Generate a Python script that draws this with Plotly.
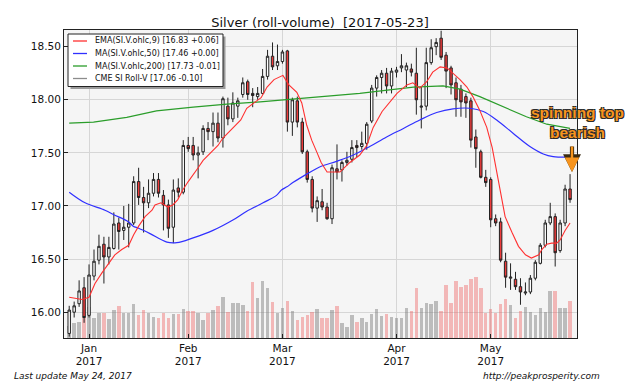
import plotly.graph_objects as go
import pandas as pd

# ---------------- data ----------------
HOLIDAYS = ["2017-01-02", "2017-01-16", "2017-02-20", "2017-04-14"]
dates = [d for d in pd.bdate_range("2016-12-27", "2017-05-23")
         if d.strftime("%Y-%m-%d") not in HOLIDAYS]
idx = list(range(len(dates)))

opens = [15.80, 16.00, 16.08, 16.23, 15.97, 16.34, 16.49, 16.64, 16.52, 16.60,
         16.84, 16.77, 16.80, 16.84, 17.23, 17.08, 17.03, 17.12, 17.25, 17.10,
         17.01, 16.80, 17.17, 17.13, 17.57, 17.57, 17.48, 17.51, 17.73, 17.70,
         17.78, 17.64, 17.94, 17.82, 17.94, 18.05, 18.17, 18.06, 18.03, 18.06,
         18.22, 18.41, 18.32, 18.36, 18.46, 17.79, 17.99, 17.79, 17.51, 17.25,
         16.98, 17.04, 16.99, 16.88, 17.35, 17.34, 17.41, 17.44, 17.57, 17.56,
         17.59, 17.80, 18.11, 18.21, 18.25, 18.13, 18.26, 18.30, 18.28, 18.29,
         18.25, 17.93, 17.94, 18.35, 18.50, 18.58, 18.42, 18.30, 18.16, 18.10,
         18.03, 17.99, 17.65, 17.51, 17.27, 17.25, 16.88, 16.85, 16.48, 16.32,
         16.31, 16.24, 16.18, 16.19, 16.32, 16.46, 16.63, 16.84, 16.90, 16.58,
         16.84, 17.16]
highs = [16.06, 16.10, 16.30, 16.33, 16.45, 16.59, 16.73, 16.71, 16.71, 16.94,
         16.89, 17.00, 17.02, 17.28, 17.36, 17.18, 17.25, 17.31, 17.31, 17.15,
         17.06, 17.25, 17.26, 17.62, 17.65, 17.65, 17.56, 17.76, 17.79, 17.88,
         17.88, 18.03, 18.02, 18.07, 18.02, 18.21, 18.19, 18.11, 18.12, 18.29,
         18.47, 18.54, 18.52, 18.47, 18.47, 18.02, 18.03, 17.83, 17.53, 17.28,
         17.09, 17.16, 17.03, 17.39, 17.58, 17.43, 17.51, 17.62, 17.62, 17.70,
         17.79, 18.14, 18.23, 18.28, 18.30, 18.30, 18.31, 18.43, 18.35, 18.34,
         18.49, 18.12, 18.49, 18.57, 18.58, 18.65, 18.45, 18.32, 18.21, 18.14,
         18.06, 18.02, 17.72, 17.53, 17.34, 17.27, 16.92, 16.89, 16.56, 16.46,
         16.38, 16.32, 16.28, 16.35, 16.49, 16.65, 16.87, 17.03, 16.93, 16.87,
         17.20, 17.30]
lows = [15.77, 15.95, 16.05, 15.90, 15.95, 16.30, 16.45, 16.27, 16.45, 16.59,
        16.59, 16.68, 16.61, 16.82, 17.01, 16.75, 16.98, 17.09, 17.08, 16.77,
        16.70, 16.65, 17.08, 17.11, 17.51, 17.43, 17.26, 17.48, 17.62, 17.56,
        17.60, 17.55, 17.76, 17.79, 17.83, 18.02, 18.00, 17.93, 18.00, 18.05,
        18.19, 18.28, 18.28, 18.34, 17.70, 17.66, 17.74, 17.49, 17.22, 16.94,
        16.85, 16.96, 16.87, 16.83, 17.25, 17.23, 17.38, 17.41, 17.46, 17.53,
        17.53, 17.78, 18.03, 18.06, 18.06, 18.06, 18.21, 18.26, 18.12, 18.22,
        17.86, 17.73, 17.90, 18.33, 18.42, 18.375, 18.11, 18.05, 17.84, 17.84,
        17.83, 17.55, 17.36, 17.26, 17.18, 16.80, 16.81, 16.47, 16.23, 16.21,
        16.21, 16.07, 16.16, 16.17, 16.30, 16.45, 16.61, 16.82, 16.43, 16.56,
        16.81, 17.03]
closes = [16.02, 16.06, 16.20, 15.95, 16.35, 16.48, 16.62, 16.52, 16.61, 16.83,
          16.76, 16.80, 16.84, 17.23, 17.08, 17.03, 17.12, 17.25, 17.12, 17.01,
          16.79, 17.15, 17.13, 17.57, 17.54, 17.48, 17.50, 17.73, 17.70, 17.78,
          17.64, 18.01, 17.82, 17.97, 17.99, 18.16, 18.05, 18.04, 18.06, 18.22,
          18.41, 18.31, 18.36, 18.45, 17.79, 18.00, 17.79, 17.51, 17.25, 16.98,
          17.05, 16.99, 16.88, 17.36, 17.32, 17.41, 17.43, 17.55, 17.55, 17.59,
          17.77, 18.11, 18.21, 18.25, 18.13, 18.27, 18.28, 18.32, 18.32, 18.26,
          18.00, 17.94, 18.35, 18.49, 18.54, 18.40, 18.27, 18.14, 18.00, 17.98,
          17.97, 17.62, 17.54, 17.27, 17.22, 16.87, 16.84, 16.49, 16.33, 16.33,
          16.24, 16.19, 16.19, 16.32, 16.47, 16.63, 16.84, 16.90, 16.56, 16.84,
          17.16, 17.06]
volume_k = [30, 38, 41, 53, 78, 49, 63, 62, 47, 70,
            81, 63, 63, 84, 58, 70, 62, 53, 51, 62,
            51, 59, 60, 72, 68, 68, 63, 45, 62, 70,
            80, 103, 66, 88, 88, 83, 68, 141, 99, 143,
            124, 91, 63, 74, 93, 68, 45, 53, 58, 66,
            72, 49, 49, 70, 80, 38, 28, 58, 41, 49,
            41, 59, 72, 55, 59, 53, 49, 51, 76, 68,
            124, 76, 88, 85, 93, 68, 133, 87, 143, 127,
            133, 148, 153, 124, 62, 73, 62, 84, 97, 83,
            51, 68, 78, 66, 58, 76, 66, 118, 118, 74,
            74, 93]

# indicator lines (x = trading-day index)
ema9_x = [0, 2.6, 4, 5.2, 6.6, 8, 9.2, 10.6, 12, 13, 14, 15.3, 16.7, 17.3, 18.5,
          19.9, 20.9, 21.9, 22.9, 24, 25, 26, 27, 28, 29, 30, 31, 32, 33, 34.6,
          35.8, 37.3, 38.7, 39.9, 41.3, 43.1, 44.3, 45.9, 46.9, 47.9, 48.9, 50,
          50.8, 52, 54.6, 56.6, 58.6, 60, 61.3, 63.1, 64.7, 66.1, 68.1, 69.3,
          70.7, 72.1, 73.3, 74.8, 76.2, 77.4, 78.8, 80.2, 81.4, 82.8, 84.2, 85.3,
          86.9, 87.9, 89.3, 90.6, 92, 93.2, 94.7, 95.3, 96.3, 97.3, 98.3, 99,
          100, 101]
ema9_y = [16.14, 16.12, 16.14, 16.27, 16.37, 16.46, 16.54, 16.59, 16.63, 16.73,
          16.81, 16.90, 16.96, 17.01, 17.03, 16.99, 17.01, 17.06, 17.15, 17.23,
          17.29, 17.36, 17.43, 17.48, 17.53, 17.57, 17.64, 17.69, 17.73, 17.81,
          17.92, 17.97, 18.02, 18.12, 18.19, 18.23, 18.14, 18.07, 17.97, 17.76,
          17.62, 17.50, 17.41, 17.32, 17.32, 17.41, 17.48, 17.57, 17.74, 17.89,
          17.98, 18.06, 18.14, 18.16, 18.11, 18.17, 18.26, 18.31, 18.30, 18.25,
          18.19, 18.12, 18.03, 17.90, 17.74, 17.55, 17.15, 16.90, 16.75, 16.62,
          16.54, 16.51, 16.54, 16.59, 16.64, 16.65, 16.65, 16.68, 16.77, 16.84]
ma50_x = [0, 3.2, 7.2, 8.9, 12, 12.9, 14, 16.3, 19.7, 21.7, 25, 29, 33.1, 35.8,
          39.1, 41.8, 42.8, 43.9, 45.1, 47.9, 50.6, 53.9, 57.3, 60.6, 64, 67.4,
          70.7, 74.1, 77.4, 80.8, 83.5, 86.2, 89.5, 92.9, 95.6, 97.6, 101]
ma50_y = [17.13, 17.03, 16.96, 16.92, 16.85, 16.81, 16.79, 16.74, 16.66, 16.655,
          16.70, 16.77, 16.87, 16.95, 17.03, 17.10, 17.15, 17.18, 17.22, 17.30,
          17.37, 17.42, 17.48, 17.56, 17.65, 17.73, 17.81, 17.88, 17.915, 17.92,
          17.89, 17.81, 17.685, 17.56, 17.49, 17.465, 17.46]
ma200_x = [0, 4.9, 11.6, 17.6, 25, 31.8, 38.5, 45.2, 51.9, 58.6, 62, 65.3, 69.4,
           75.4, 78.8, 82.8, 86.9, 92.2, 96.3, 101]
ma200_y = [17.78, 17.79, 17.835, 17.895, 17.93, 17.96, 17.98, 18.005, 18.03,
           18.06, 18.08, 18.10, 18.12, 18.13, 18.10, 18.03, 17.95, 17.84, 17.77,
           17.73]

legend_labels = ["EMA(SI.V.ohlc,9) [16.83 +0.06]",
                 "MA(SI.V.ohlc,50) [17.46 +0.00]",
                 "MA(SI.V.ohlc,200) [17.73 -0.01]",
                 "CME SI Roll-V [17.06 -0.10]"]
price_ticks = [16.0, 16.5, 17.0, 17.5, 18.0, 18.5]

# ---------------- styling ----------------
C_EMA, C_MA50, C_MA200, C_PRICE = "#ff3030", "#3030ff", "#2a9d2a", "#8c8c8c"
FONT = "DejaVu Sans"
W, H = 640, 384
L, R, T, B = 64, 577, 30, 338   # plot area in pixels


def px(x):
    return (x - L) / (R - L)


def py(y):
    return (B - y) / (B - T)


# month ticks: first trading day of each month in 2017
tick_idx, tick_txt = [], []
for m in range(1, 6):
    for i, d in enumerate(dates):
        if d.year == 2017 and d.month == m:
            tick_idx.append(i)
            tick_txt.append(f"{d:%b}<br>{d:%Y}")
            break

vol_colors = ["rgba(238,90,90,0.40)" if c < o else "rgba(120,120,120,0.45)"
              for o, c in zip(opens, closes)]

fig = go.Figure()
fig.add_trace(go.Bar(x=idx, y=volume_k, width=0.7, marker_color=vol_colors,
                     marker_line_width=0, yaxis="y", hoverinfo="skip",
                     showlegend=False))
fig.add_trace(go.Candlestick(
    x=idx, open=opens, high=highs, low=lows, close=closes, yaxis="y2",
    increasing=dict(line=dict(color="#222222", width=1), fillcolor="#ffffff"),
    decreasing=dict(line=dict(color="#222222", width=1), fillcolor="#ee3b3b"),
    whiskerwidth=0, showlegend=False, hoverinfo="skip"))
fig.add_trace(go.Scatter(x=ma200_x, y=ma200_y, yaxis="y2", mode="lines",
                         line=dict(color=C_MA200, width=1.2), showlegend=False))
fig.add_trace(go.Scatter(x=ma50_x, y=ma50_y, yaxis="y2", mode="lines",
                         line=dict(color=C_MA50, width=1.2, shape="spline"),
                         showlegend=False))
fig.add_trace(go.Scatter(x=ema9_x, y=ema9_y, yaxis="y2", mode="lines",
                         line=dict(color=C_EMA, width=1.1), showlegend=False))

shapes, annos = [], []
# legend box with shadow
shapes.append(dict(type="rect", xref="paper", yref="paper",
                   x0=px(70.5), x1=px(225.5), y0=py(89), y1=py(36.5),
                   fillcolor="#9a9a9a", line=dict(width=0), layer="above"))
shapes.append(dict(type="rect", xref="paper", yref="paper",
                   x0=px(68), x1=px(223), y0=py(86.5), y1=py(34),
                   fillcolor="#ffffff", line=dict(color="#222222", width=1),
                   layer="above"))
rows = [41, 53.5, 66, 78.5]
for yy, col, lab in zip(rows, [C_EMA, C_MA50, C_MA200, C_PRICE], legend_labels):
    shapes.append(dict(type="line", xref="paper", yref="paper",
                       x0=px(73), x1=px(87), y0=py(yy), y1=py(yy),
                       line=dict(color=col, width=1.3), layer="above"))
    annos.append(dict(xref="paper", yref="paper", x=px(93), y=py(yy),
                      xanchor="left", yanchor="middle", showarrow=False,
                      text=lab, font=dict(family=FONT, size=8, color="#111111")))

# footer texts
annos.append(dict(xref="paper", yref="paper", x=px(12), y=py(376),
                  xanchor="left", yanchor="middle", showarrow=False,
                  text="Last update May 24, 2017",
                  font=dict(family=FONT, size=9, color="#111111", style="italic")))
annos.append(dict(xref="paper", yref="paper", x=px(481), y=py(376),
                  xanchor="left", yanchor="middle", showarrow=False,
                  text="http://peakprosperity.com",
                  font=dict(family=FONT, size=9, color="#111111", style="italic")))

# callout arrow (outline + fill)
for wdt, asz, col in [(4.2, 0.85, "#3a2a10"), (2.4, 1.2, "#f7941d")]:
    annos.append(dict(xref="paper", yref="paper", x=px(572), y=py(172),
                      ax=0, ay=-27, axref="pixel", ayref="pixel",
                      showarrow=True, arrowhead=2, arrowsize=asz,
                      arrowwidth=wdt, arrowcolor=col, text=""))
annos.append(dict(xref="paper", yref="paper", x=px(577), y=py(122.5),
                  xanchor="center", yanchor="middle", showarrow=False,
                  text="spinning top<br>bearish",
                  font=dict(family="Liberation Sans", size=15.5, color="#f7941d",
                            weight="bold",
                            shadow="-1px -1px 0 #2a2a2a, 1px -1px 0 #2a2a2a, "
                                   "-1px 1px 0 #2a2a2a, 1px 1px 0 #2a2a2a")))

fig.update_layout(
    width=W, height=H,
    margin=dict(l=L, r=W - R, t=T, b=H - B),
    paper_bgcolor="#ffffff", plot_bgcolor="#f5f5f5",
    title=dict(text="Silver (roll-volume) \u00a0[2017-05-23]",
               x=0.5, xref="container", xanchor="center",
               y=1 - 22.5 / H, yref="container", yanchor="middle",
               font=dict(family=FONT, size=13, color="#111111")),
    showlegend=False, bargap=0,
    xaxis=dict(range=[-1.05, 102.4], tickvals=tick_idx, ticktext=tick_txt,
               showgrid=True, gridcolor="#d6d6d6", gridwidth=1, zeroline=False,
               showline=True, mirror=True, linecolor="#222222", linewidth=1,
               ticks="inside", ticklen=4, tickcolor="#222222",
               tickfont=dict(family=FONT, size=10.5, color="#111111"),
               rangeslider=dict(visible=False)),
    yaxis=dict(range=[0, 770], visible=False, fixedrange=True),
    yaxis2=dict(overlaying="y", side="left", range=[15.757, 18.657],
                tickvals=price_ticks, ticktext=[f"{v:.2f}" for v in price_ticks],
                showgrid=True, gridcolor="#d6d6d6", gridwidth=1, zeroline=False,
                showline=True, mirror=True, linecolor="#222222", linewidth=1,
                ticks="inside", ticklen=4, tickcolor="#222222",
                tickfont=dict(family=FONT, size=10.5, color="#111111")),
    shapes=shapes, annotations=annos,
)

fig.write_html("out.html",
               config={"displayModeBar": False},
               post_script="document.body.style.margin='0';"
                           "document.body.style.padding='0';")
